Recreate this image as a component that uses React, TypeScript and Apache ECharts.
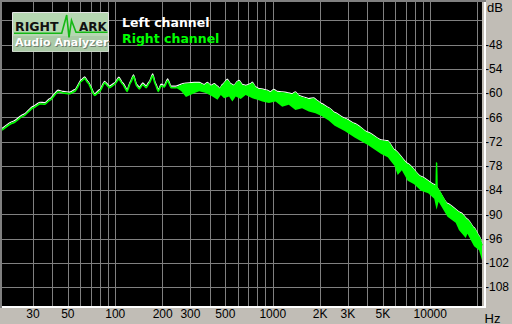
import React, { useEffect, useRef } from "react";
import * as echarts from "echarts";

// Right channel (green) upper edge: frequency in Hz, level in dB
const rightHz = [
  19.1, 22.5, 26.1, 30.1, 33.2, 35.7, 38.4, 43.4, 46.6, 51.4, 55.3, 61.0, 64.0, 67.1, 74.0, 79.6,
  85.6, 92.0, 99.0, 105.4, 111.7, 119.1, 124.9, 130.6, 136.9, 142.4, 149.5, 157.0, 164.8, 172.9,
  179.8, 187.8, 195.4, 205.0, 215.0, 226.0, 243.0,
  274, 317, 341, 367, 385, 405, 425, 446, 461, 479, 515, 541, 568, 596, 611, 641, 673, 724, 742,
  779, 817, 879, 922, 968, 1016, 1067, 1148, 1234, 1327, 1393, 1464, 1574, 1693, 1820, 1910,
  2037, 2265, 2472, 2860, 3307, 4014, 4880, 5370, 5921, 7187, 8734, 10600, 10900, 10970, 11040,
  12865, 15640, 17215, 18977, 20405, 21320,
];
const rightDb = [
  -69.1, -67.3, -65.6, -63.6, -62.6, -62.7, -61.7, -59.6, -59.9, -60.1, -59.5, -57.0, -56.3, -57.4, -60.5, -59.5,
  -57.4, -58.6, -57.8, -56.4, -57.8, -59.5, -57.4, -55.8, -58.2, -58.9, -57.8, -58.6, -57.4, -55.6,
  -57.8, -59.5, -58.1, -58.4, -56.8, -58.6, -58.6,
  -57.8, -57.6, -57.6, -58.1, -57.6, -58.3, -57.9, -58.5, -59.1, -58.1, -56.8, -57.9, -58.3, -57.3, -57.1, -58.1, -58.3, -57.9, -57.5,
  -58.7, -59.1, -59.3, -59.5, -59.9, -59.3, -59.8, -59.9, -60.1, -60.4, -59.9, -60.8, -61.2, -61.6, -61.4, -62.0,
  -62.8, -63.8, -65.0, -66.4, -67.7, -69.9, -71.8, -72.0, -74.2, -77.6, -80.8, -82.8, -83.3, -77.1, -83.5,
  -87.5, -89.8, -91.4, -93.5, -95.5, -97.6,
];

// Right channel (green) lower edge of the noise band
const rightFloorHz = [
  243, 262, 281, 317, 341, 376, 414, 446, 468, 491, 528, 554, 582, 626, 673, 742, 798, 858, 945,
  1042, 1148, 1264, 1393, 1535, 1693, 1866, 2037, 2265, 2472, 2860, 3307, 4014, 4880, 5370, 5921,
  6214, 6600, 7187, 7900, 8734, 9700, 10600, 10970, 11300, 12865, 14500, 15200, 16800, 17215, 18977,
  20405, 21320,
];
const rightFloorDb = [
  -58.6, -59.4, -60.9, -60.0, -59.5, -59.9, -60.8, -61.6, -60.4, -61.2, -60.8, -62.0, -60.8, -61.4, -60.4, -61.2, -61.6, -62.0, -62.4,
  -62.0, -63.3, -62.8, -64.1, -63.7, -64.5, -64.9, -65.6, -66.7, -68.0, -69.3, -70.9, -72.8, -75.0, -75.8, -77.9,
  -80.2, -79.0, -81.6, -82.5, -84.1, -84.7, -86.1, -88.8, -86.8, -90.5, -92.0, -93.8, -95.8, -94.7, -97.8,
  -98.8, -101.3,
];

// Left channel (white)
const leftHz = [
  19.1, 22.5, 26.1, 30.1, 33.2, 35.7, 38.4, 43.4, 46.6, 51.4, 55.3, 61.0, 64.0, 67.1, 74.0, 79.6,
  85.6, 92.0, 99.0, 105.4, 111.7, 119.1, 124.9, 130.6, 136.9, 142.4, 149.5, 157.0, 164.8, 172.9,
  179.8, 187.8, 195.4, 205.0, 215.0, 226.0, 243.0,
  274, 317, 341, 367, 385, 405, 425, 446, 461, 479, 515, 541, 568, 596, 611, 641, 673, 724, 742,
  779, 817, 879, 922, 968, 1016, 1067, 1148, 1234, 1327, 1393, 1464, 1574, 1693, 1820, 1910,
  2037, 2265, 2472, 2860, 3307, 4014, 4880, 5370, 5921, 7187, 8734, 10600, 12865, 15640, 17215,
  18977, 20405, 21320,
];
const leftDb = [
  -68.7, -66.9, -65.2, -63.2, -62.2, -62.3, -61.3, -59.2, -59.5, -59.7, -59.1, -56.6, -55.9, -57.0, -60.1, -59.1,
  -57.0, -58.2, -57.4, -56.0, -57.4, -59.1, -57.0, -55.4, -57.8, -58.5, -57.4, -58.2, -57.0, -55.2,
  -57.4, -59.1, -57.7, -58.0, -56.4, -58.2, -58.2,
  -57.5, -57.3, -57.3, -57.8, -57.3, -58.0, -57.6, -58.2, -58.8, -57.8, -56.5, -57.6, -58.0, -57.0, -56.8, -57.8, -58.0, -57.6, -57.2,
  -58.4, -58.8, -59.0, -59.2, -59.6, -59.0, -59.5, -59.6, -59.8, -60.1, -59.6, -60.5, -60.9, -61.3, -61.1, -61.7,
  -62.5, -63.5, -64.7, -66.1, -67.4, -69.6, -71.5, -71.7, -73.9, -77.3, -80.5, -82.5, -87.2, -89.5, -91.1,
  -93.2, -95.2, -97.3,
];

const xGridHz = [30, 40, 50, 60, 70, 80, 90, 100, 200, 300, 400, 500, 600, 700, 800, 900,
  1000, 2000, 3000, 4000, 5000, 6000, 7000, 8000, 9000, 10000, 20000];
const xLabelHz = [30, 50, 100, 200, 300, 500, 1000, 2000, 3000, 5000, 10000];
const xLabelText = ["30", "50", "100", "200", "300", "500", "1000", "2K", "3K", "5K", "10000"];
const yGridDb = [-42, -48, -54, -60, -66, -72, -78, -84, -90, -96, -102, -108];
const yLabelDb = [-48, -54, -60, -66, -72, -78, -84, -90, -96, -102, -108];

const X_MIN_HZ = 19.1;
const X_MAX_HZ = 21300;
const Y_MIN = -112.6;
const Y_MAX = -37.4;
const BAND_START_HZ = 243;

const BG = "#c1bdb6";
const GRIDC = "#808080";
const GREEN = "#00ff00";

export default function App() {
  const ref = useRef<HTMLDivElement>(null);
  useEffect(() => {
    const chart = echarts.init(ref.current!, null, { renderer: "svg" });
    const lg = Math.log10;
    const leftData = leftHz.map((f, i) => [lg(f), leftDb[i]]);
    const rightData = rightHz.map((f, i) => [lg(f), rightDb[i]]);
    const bandTop = rightData.filter((p, i) => rightHz[i] >= BAND_START_HZ);
    const bandFloor = rightFloorHz.map((f, i) => [lg(f), rightFloorDb[i]]);
    const xLabelFmt = (v: number) => {
      const i = xLabelHz.findIndex((f) => Math.abs(lg(f) - v) < 1e-6);
      return i >= 0 ? xLabelText[i] : "";
    };
    const lab = { color: "#000", fontFamily: "Liberation Sans", fontSize: 12 };
    chart.setOption({
      animation: false,
      backgroundColor: BG,
      grid: { left: 2, top: 2, width: 482, height: 304, show: true, backgroundColor: "#000", borderWidth: 0 },
      xAxis: {
        type: "value",
        min: lg(X_MIN_HZ),
        max: lg(X_MAX_HZ),
        axisLine: { show: false },
        axisTick: { show: false, customValues: xGridHz.map(lg) },
        splitLine: { show: true, lineStyle: { color: GRIDC, width: 1 } },
        axisLabel: { ...lab, margin: 2, customValues: xLabelHz.map(lg), formatter: xLabelFmt },
      },
      yAxis: {
        type: "value",
        position: "right",
        min: Y_MIN,
        max: Y_MAX,
        axisLine: { show: false },
        axisTick: { show: false, customValues: yGridDb },
        splitLine: { show: true, lineStyle: { color: GRIDC, width: 1 } },
        axisLabel: { ...lab, margin: 3, customValues: yLabelDb },
      },
      series: [
        {
          type: "line",
          name: "Left channel",
          data: leftData,
          showSymbol: false,
          smooth: 0.2,
          smoothMonotone: "x",
          lineStyle: { color: "#ffffff", width: 1.2 },
          z: 2,
          silent: true,
        },
        {
          type: "custom",
          name: "Right channel band",
          data: bandFloor,
          encode: { x: 0, y: 1 },
          clip: true,
          silent: true,
          z: 3,
          renderItem: (params: any, api: any) => {
            if (params.dataIndex !== 0) return null;
            const pts: number[][] = [];
            for (let i = 0; i < bandTop.length; i++) pts.push(api.coord(bandTop[i]));
            for (let i = bandFloor.length - 1; i >= 0; i--) pts.push(api.coord(bandFloor[i]));
            return { type: "polygon", shape: { points: pts }, style: { fill: GREEN } };
          },
        },
        {
          type: "line",
          name: "Right channel",
          data: rightData,
          showSymbol: false,
          smooth: 0.2,
          smoothMonotone: "x",
          lineStyle: { color: GREEN, width: 1.6 },
          z: 4,
          silent: true,
        },
      ],
      graphic: [
        // frame
        { type: "rect", z: 100, shape: { x: 0, y: 0, width: 486, height: 2 }, style: { fill: GRIDC } },
        { type: "rect", z: 100, shape: { x: 0, y: 0, width: 2, height: 308 }, style: { fill: GRIDC } },
        { type: "rect", z: 100, shape: { x: 484, y: 2, width: 2, height: 306 }, style: { fill: "#ffffff" } },
        { type: "rect", z: 100, shape: { x: 2, y: 306, width: 484, height: 2 }, style: { fill: "#ffffff" } },
        // logo
        { type: "rect", z: 100, shape: { x: 12.5, y: 12.5, width: 96, height: 39 }, style: { fill: "#b6d7b2", stroke: "#e4e4e4", lineWidth: 1 } },
        { type: "rect", z: 100, shape: { x: 13, y: 36, width: 95, height: 15.5 }, style: { fill: "#abcaa7" } },
        { type: "text", z: 101, x: 15, y: 26.5, style: { text: "RIGHT", font: "bold 12.5px 'DejaVu Sans'", fill: "#111", textVerticalAlign: "middle" } },
        { type: "text", z: 101, x: 79, y: 26.5, style: { text: "ARK", font: "bold 12px 'DejaVu Sans'", fill: "#111", textVerticalAlign: "middle" } },
        {
          type: "polyline", z: 102,
          shape: { points: [[14, 33.3], [61.7, 33.3], [66.7, 15], [69, 37.3], [71.5, 20.5], [76, 32.3], [107.5, 32.3]] },
          style: { stroke: "#14b814", lineWidth: 1.6, fill: null },
        },
        { type: "text", z: 101, x: 16, y: 43.5, style: { text: "Audio Analyzer", font: "bold 11px 'DejaVu Sans'", fill: "#6f7f6d", textVerticalAlign: "middle" } },
        { type: "text", z: 102, x: 15, y: 42.5, style: { text: "Audio Analyzer", font: "bold 11px 'DejaVu Sans'", fill: "#ffffff", textVerticalAlign: "middle" } },
        // legend
        { type: "text", z: 101, x: 122, y: 22.8, style: { text: "Left channel", font: "bold 12.5px 'DejaVu Sans'", fill: "#ffffff", textVerticalAlign: "middle" } },
        { type: "text", z: 101, x: 122, y: 38.2, style: { text: "Right channel", font: "bold 12.5px 'DejaVu Sans'", fill: GREEN, textVerticalAlign: "middle" } },
        // unit labels
        { type: "text", z: 101, x: 487, y: 7.5, style: { text: "dB", font: "13px 'Liberation Sans'", fill: "#000", textVerticalAlign: "middle" } },
        { type: "text", z: 101, x: 484.5, y: 318, style: { text: "Hz", font: "13px 'Liberation Sans'", fill: "#000", textVerticalAlign: "middle" } },
      ],
    });
    return () => chart.dispose();
  }, []);
  return (
    <div
      ref={ref}
      style={{ position: "absolute", left: 0, top: 0, width: 512, height: 324, background: BG }}
    />
  );
}
